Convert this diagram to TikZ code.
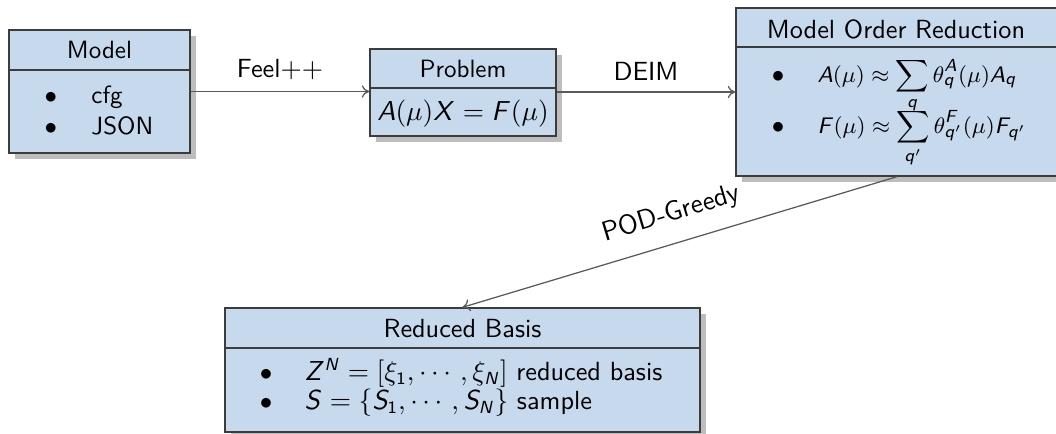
\documentclass[tikz,border=0pt]{standalone}
\usepackage{amsmath}
\usetikzlibrary{shadows,arrows.meta}
% beamer-like sans math letters
\DeclareSymbolFont{sfletters}{OT1}{cmss}{m}{sl}
\DeclareSymbolFont{sfdigits}{OT1}{cmss}{m}{n}
\makeatletter
\count@=`A
\loop
  \mathcode\count@=\numexpr "7000+\symsfletters*"100+\count@\relax
  \ifnum\count@<`Z \advance\count@ by 1 \repeat
\count@=`a
\loop
  \mathcode\count@=\numexpr "7000+\symsfletters*"100+\count@\relax
  \ifnum\count@<`z \advance\count@ by 1 \repeat
\count@=`0
\loop
  \mathcode\count@=\numexpr "7000+\symsfdigits*"100+\count@\relax
  \ifnum\count@<`9 \advance\count@ by 1 \repeat
\makeatother
\definecolor{boxfill}{RGB}{198,217,237}
\definecolor{boxline}{RGB}{60,60,60}
\definecolor{connline}{RGB}{90,90,90}
\tikzset{
  umlbox/.style={draw=boxline, fill=boxfill, line width=0.55pt, inner sep=0pt,
    drop shadow={shadow xshift=2.4pt, shadow yshift=-2.4pt, fill=black!26, opacity=1}},
  divider/.style={draw=boxline, line width=0.55pt},
  txt/.style={inner sep=0pt, font=\sffamily},
  bigtxt/.style={inner sep=0pt, font=\sffamily\fontsize{10.5}{12}\selectfont},
  formtxt/.style={inner sep=0pt, font=\sffamily\fontsize{9.3}{11}\selectfont},
  conn/.style={draw=connline, line width=0.5pt, -{To[length=3pt,width=5pt]}},
  lbl/.style={font=\sffamily\fontsize{10.5}{12}\selectfont, text=black}
}
\begin{document}
\begin{tikzpicture}[x=0.4pt, y=-0.4pt, font=\sffamily]
\path[use as bounding box] (0,0) rectangle (1056,434);
\clip (0,0) rectangle (1056,434);

% Model
\node[umlbox, minimum width=72.4pt, minimum height=49.2pt] (model) at (99.5,91.5) {};
\draw[divider] (model.west |- 0,70) -- (model.east |- 0,70);
\node[txt] (modelt) at (99.5,50) {Model};
\node[txt, anchor=base] (mb1) at (51,103) {$\bullet$};
\node[txt, anchor=base west] (mi1) at (91,103) {cfg};
\node[txt, anchor=base] (mb2) at (51,134) {$\bullet$};
\node[txt, anchor=base west] (mi2) at (91,134) {JSON};

% Problem
\node[umlbox, minimum width=74.4pt, minimum height=34.8pt] (problem) at (463,92.5) {};
\draw[divider] (problem.west |- 0,88) -- (problem.east |- 0,88);
\node[txt] (problemt) at (463,69) {Problem};
\node[txt, font=\sffamily\fontsize{11}{13}\selectfont] (probeq) at (463,114) {$A(\mu)X = F(\mu)$};

% Model Order Reduction
\node[umlbox, minimum width=132pt, minimum height=67.2pt] (mor) at (901,92) {};
\draw[divider] (mor.west |- 0,47) -- (mor.east |- 0,47);
\node[bigtxt] (mort) at (896,29) {Model Order Reduction};
\node[txt, anchor=base] (morb1) at (778,82) {$\bullet$};
\node[formtxt, anchor=base west] (mori1) at (817,82) {$A(\mu) \approx \displaystyle\sum_{q} \theta_q^A(\mu) A_q$};
\node[txt, anchor=base] (morb2) at (778,133) {$\bullet$};
\node[formtxt, anchor=base west] (mori2) at (817,133) {$F(\mu) \approx \displaystyle\sum_{q'} \theta_{q'}^F(\mu) F_{q'}$};

% Reduced Basis
\node[umlbox, minimum width=190pt, minimum height=49.6pt] (rb) at (462.5,370) {};
\draw[divider] (rb.west |- 0,348) -- (rb.east |- 0,348);
\node[bigtxt] (rbt) at (462.5,329) {Reduced Basis};
\node[txt, anchor=base] (rbb1) at (266,380) {$\bullet$};
\node[bigtxt, anchor=base west] (rbi1) at (304,380) {$Z^N = [\xi_1, \cdots, \xi_N]$ reduced basis};
\node[txt, anchor=base] (rbb2) at (266,409) {$\bullet$};
\node[bigtxt, anchor=base west] (rbi2) at (304,409) {$S = \{S_1, \cdots, S_N\}$ sample};

% connectors
\draw[conn] (model.east) -- (model.east -| problem.west)
  node[lbl, midway, above=1pt] (feel) {Feel$++$};
\draw[conn] (problem.east |- 0,92) -- (mor.west |- 0,92)
  node[lbl, midway, above=1pt] (deim) {DEIM};
\draw[conn] (mor.south -| 897,0) -- (rb.north)
  node[lbl, midway, above=3pt, sloped, font=\sffamily\fontsize{11}{13}\selectfont] (pod) {POD-Greedy};
\end{tikzpicture}
\end{document}
